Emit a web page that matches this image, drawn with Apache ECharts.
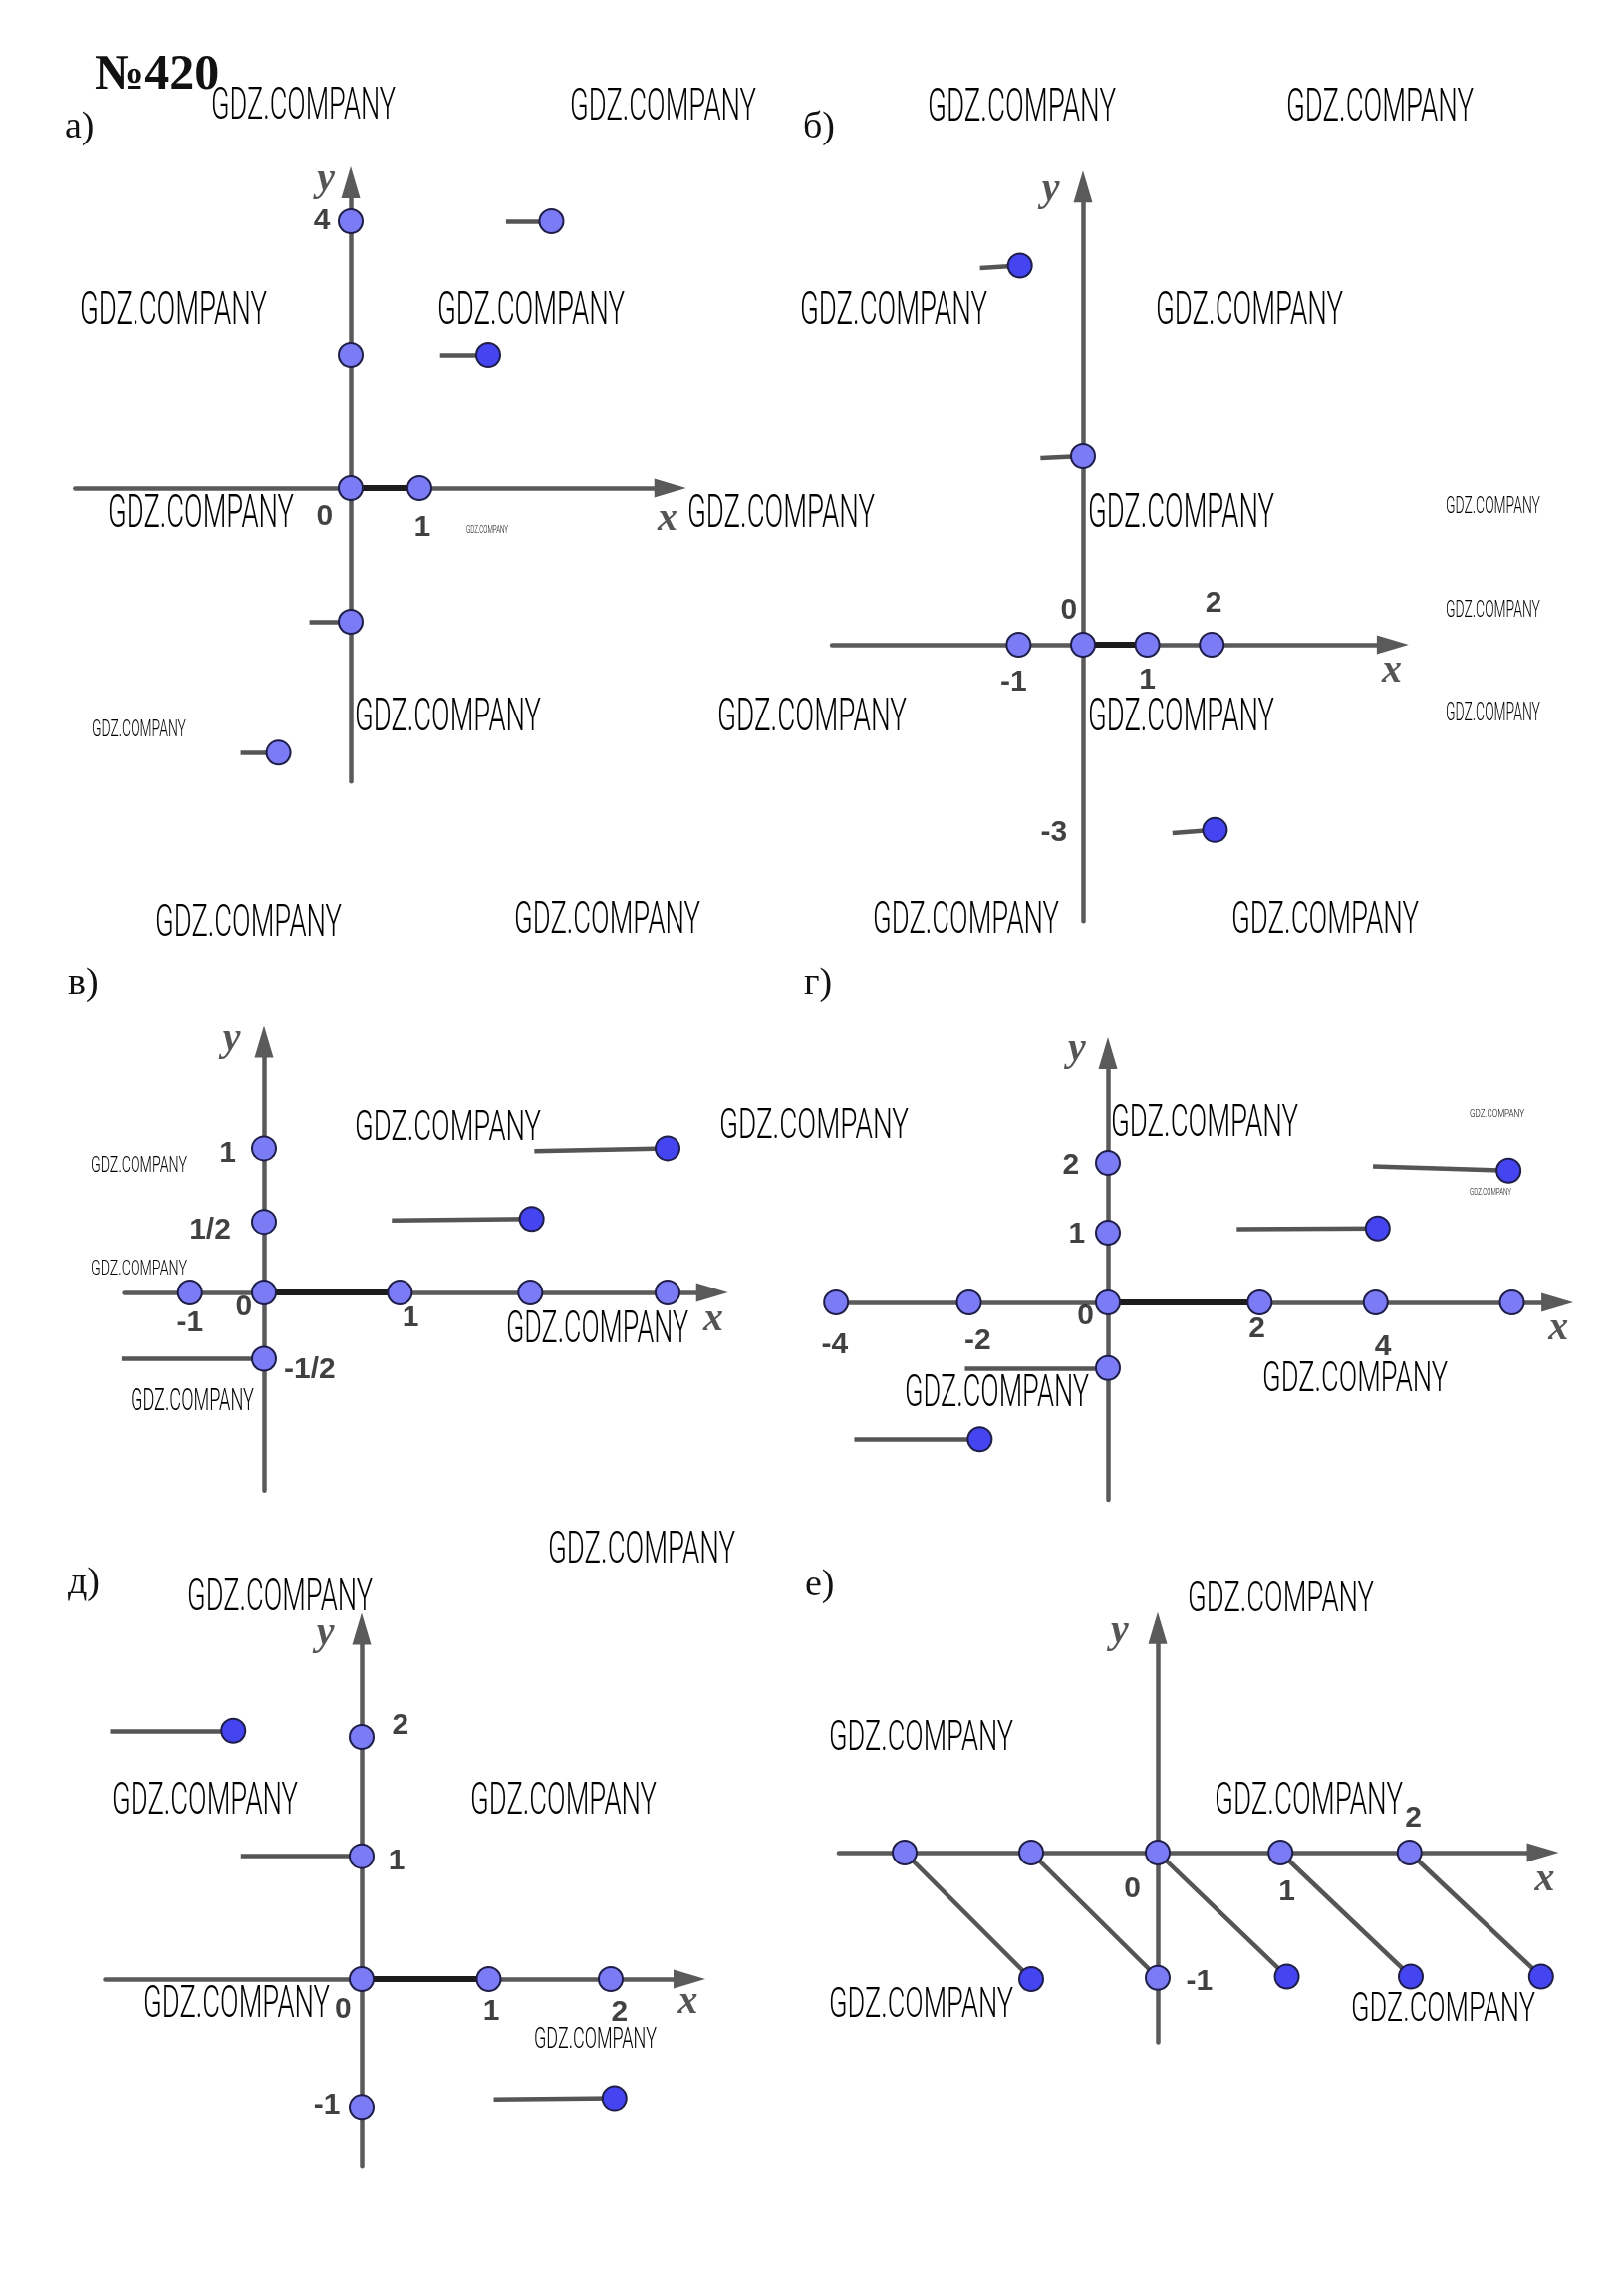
<!DOCTYPE html>
<html>
<head>
<meta charset="UTF-8">
<title>№420</title>
<script src="https://cdn.jsdelivr.net/npm/echarts@6.0.0/dist/echarts.min.js"></script>
<style>
html, body { margin: 0; padding: 0; background: #fff; }
#main { width: 1630px; height: 2298px; }
</style>
</head>
<body>
<div id="main"></div>
<script type="text/javascript">
// а)
var pointsA = [[0, 4], [0, 2], [0, 0], [1, 0], [0, -2], [2.92, 4], [-1.05, -3.96]];
var filledA = [[2, 2]];
var segmentsA = [[[2.26, 4], [2.92, 4]], [[1.3, 2], [2, 2]], [[-0.6, -2], [0, -2]], [[-1.6, -3.96], [-1.05, -3.96]]];
var boldA = [[[0, 0], [1, 0]]];
var ticksA = [[-0.42, 4, '4'], [-0.38, -0.43, '0'], [1.04, -0.6, '1']];
var namesA = [[4.61, -0.48, 'x'], [-0.36, 4.61, 'y']];

// б)
var pointsB = [[-1, 0], [0, 0], [1, 0], [2, 0], [0, 3]];
var filledB = [[-0.98, 6.04], [2.05, -2.95]];
var segmentsB = [[[-1.6, 6.0], [-0.98, 6.04]], [[-0.66, 2.97], [0, 3]], [[1.39, -3.0], [2.05, -2.95]]];
var boldB = [[[0, 0], [1, 0]]];
var ticksB = [[-0.22, 0.55, '0'], [2.03, 0.65, '2'], [-1.08, -0.6, '-1'], [1.0, -0.57, '1'], [-0.45, -3.0, '-3']];
var namesB = [[4.8, -0.42, 'x'], [-0.5, 7.25, 'y']];

// в)
var pointsC = [[-0.55, 0], [0, 0], [1.01, 0], [1.98, 0], [3.0, 0], [0, 1], [0, 0.49], [0, -0.46]];
var filledC = [[3.0, 1.0], [1.99, 0.51]];
var segmentsC = [[[2.01, 0.98], [3.0, 1.0]], [[0.95, 0.5], [1.99, 0.51]], [[-1.06, -0.46], [0, -0.46]]];
var boldC = [[[0, 0], [1.01, 0]]];
var ticksC = [[-0.27, 0.96, '1'], [-0.40, 0.43, '1/2'], [-0.15, -0.1, '0'], [-0.55, -0.21, '-1'], [1.09, -0.18, '1'], [0.34, -0.54, '-1/2']];
var namesC = [[3.34, -0.19, 'x'], [-0.24, 1.75, 'y']];

// г)
var pointsD = [[-4.03, 0], [-2.06, 0], [0, 0], [2.25, 0], [3.97, 0], [5.99, 0], [0, 2], [0, 1], [0, -0.94]];
var filledD = [[5.94, 1.89], [4.0, 1.06], [-1.9, -1.96]];
var segmentsD = [[[3.93, 1.95], [5.94, 1.89]], [[1.91, 1.05], [4.0, 1.06]], [[-2.12, -0.94], [0, -0.94]], [[-3.76, -1.96], [-1.9, -1.96]]];
var boldD = [[[0, 0], [2.25, 0]]];
var ticksD = [[-0.55, 1.96, '2'], [-0.46, 0.97, '1'], [-0.33, -0.2, '0'], [-4.05, -0.61, '-4'], [-1.93, -0.56, '-2'], [2.21, -0.38, '2'], [4.08, -0.64, '4']];
var namesD = [[6.68, -0.38, 'x'], [-0.46, 3.62, 'y']];

// д)
var pointsE = [[0, 1.95], [0, 0.99], [0, 0], [1.02, 0], [2.0, 0], [0, -1.03]];
var filledE = [[-1.03, 2.0], [2.03, -0.96]];
var segmentsE = [[[-2.02, 2.0], [-1.03, 2.0]], [[-0.97, 0.99], [0, 0.99]], [[1.06, -0.97], [2.03, -0.96]]];
var boldE = [[[0, 0], [1.02, 0]]];
var ticksE = [[0.31, 2.04, '2'], [0.28, 0.95, '1'], [-0.15, -0.25, '0'], [1.04, -0.26, '1'], [2.07, -0.27, '2'], [-0.28, -1.02, '-1']];
var namesE = [[2.62, -0.19, 'x'], [-0.29, 2.78, 'y']];

// е)
var pointsF = [[-2, 0], [-1, 0], [0, 0], [0.97, 0], [1.99, 0], [0, -0.99]];
var filledF = [[-1, -1], [1.02, -0.98], [2.0, -0.98], [3.03, -0.98]];
var segmentsF = [[[-2, 0], [-1, -1]], [[-1, 0], [0, -0.99]], [[0, 0], [1.02, -0.98]], [[0.97, 0], [2.0, -0.98]], [[1.99, 0], [3.03, -0.98]]];
var boldF = [];
var ticksF = [[-0.2, -0.29, '0'], [1.02, -0.31, '1'], [2.02, 0.27, '2'], [0.33, -1.02, '-1']];
var namesF = [[3.06, -0.22, 'x'], [-0.30, 1.74, 'y']];

var panels = [
  { letter: 'а)', pts: pointsA, filled: filledA, segs: segmentsA, bold: boldA, ticks: ticksA, names: namesA },
  { letter: 'б)', pts: pointsB, filled: filledB, segs: segmentsB, bold: boldB, ticks: ticksB, names: namesB },
  { letter: 'в)', pts: pointsC, filled: filledC, segs: segmentsC, bold: boldC, ticks: ticksC, names: namesC },
  { letter: 'г)', pts: pointsD, filled: filledD, segs: segmentsD, bold: boldD, ticks: ticksD, names: namesD },
  { letter: 'д)', pts: pointsE, filled: filledE, segs: segmentsE, bold: boldE, ticks: ticksE, names: namesE },
  { letter: 'е)', pts: pointsF, filled: filledF, segs: segmentsF, bold: boldF, ticks: ticksF, names: namesF }
];

// where each coordinate plane sits on the page (origin px, px per unit, axis ends)
var layout = [
  { ox: 352, oy: 490, ux: 69, uy: 67, xMin: -4.01, xTip: 4.88, yMin: -4.39, yTip: 4.82, lx: 65, ly: 141 },
  { ox: 1087, oy: 647, ux: 64.6, uy: 63, xMin: -3.9, xTip: 5.06, yMin: -4.4, yTip: 7.55, lx: 806, ly: 141 },
  { ox: 265, oy: 1297, ux: 135, uy: 144.6, xMin: -1.04, xTip: 3.45, yMin: -1.375, yTip: 1.85, lx: 68, ly: 1000 },
  { ox: 1112, oy: 1307, ux: 67.7, uy: 70, xMin: -4.03, xTip: 6.9, yMin: -2.83, yTip: 3.8, lx: 807, ly: 1000 },
  { ox: 363, oy: 1986, ux: 125, uy: 124.6, xMin: -2.06, xTip: 2.76, yMin: -1.51, yTip: 2.95, lx: 68, ly: 1602 },
  { ox: 1162, oy: 1859, ux: 127, uy: 127, xMin: -2.52, xTip: 3.17, yMin: -1.5, yTip: 1.9, lx: 808, ly: 1604 }
];

// watermark boxes: left, cap top, width, cap height
var watermarks = [
  [212, 89, 185, 31], [572, 89, 187, 32], [931, 89, 189, 33], [1291, 89, 188, 33],
  [80, 293, 188, 33], [439, 293, 188, 33], [803, 293, 188, 33], [1160, 293, 188, 33],
  [108, 497, 187, 33], [690, 497, 188, 33], [1092, 496, 187, 34], [1451, 497, 95, 17],
  [468, 524, 42, 8], [1451, 601, 95, 17], [1451, 704, 95, 18], [92, 721, 95, 17],
  [356, 701, 187, 33], [720, 701, 190, 33], [1092, 701, 187, 33],
  [156, 909, 187, 31], [516, 905, 187, 32], [876, 905, 187, 32], [1236, 905, 188, 32],
  [91, 1158, 97, 16], [356, 1114, 187, 30], [722, 1112, 190, 30], [1115, 1109, 188, 32],
  [1475, 1110, 55, 8], [1475, 1189, 42, 7], [91, 1262, 97, 15],
  [508, 1316, 183, 32], [131, 1392, 124, 22], [908, 1380, 185, 32], [1267, 1366, 186, 30],
  [550, 1537, 188, 32], [188, 1585, 186, 32], [1192, 1587, 187, 30], [832, 1726, 185, 30],
  [112, 1789, 187, 32], [472, 1789, 187, 32], [1219, 1790, 189, 31],
  [144, 1993, 187, 32], [536, 2033, 123, 21], [832, 1994, 185, 30], [1356, 1999, 185, 29]
];

var ARROW_W = 19, ARROW_L = 32;
var AXIS_COLOR = '#5a5a5a';
var WM_FONT = 'Roboto';

var grids = [], xAxes = [], yAxes = [], series = [], graphics = [];

function axisStyle() {
  return {
    axisLine: {
      show: true, onZero: true,
      symbol: ['none', 'triangle'], symbolSize: [ARROW_W, ARROW_L],
      lineStyle: { color: AXIS_COLOR, width: 4.5 }
    },
    axisTick: { show: false },
    axisLabel: { show: false },
    splitLine: { show: false }
  };
}

function toLines(list) {
  return list.map(function (s) { return { coords: s }; });
}

panels.forEach(function (p, i) {
  var L = layout[i];
  var xMax = L.xTip - ARROW_L / 2 / L.ux;
  var yMax = L.yTip - ARROW_L / 2 / L.uy;
  grids.push({
    left: L.ox + L.xMin * L.ux,
    top: L.oy - yMax * L.uy,
    width: (xMax - L.xMin) * L.ux,
    height: (yMax - L.yMin) * L.uy,
    containLabel: false,
    outerBoundsMode: 'none'
  });
  var xa = axisStyle();
  xa.type = 'value'; xa.gridIndex = i; xa.min = L.xMin; xa.max = xMax;
  xAxes.push(xa);
  var ya = axisStyle();
  ya.type = 'value'; ya.gridIndex = i; ya.min = L.yMin; ya.max = yMax;
  yAxes.push(ya);

  var base = { xAxisIndex: i, yAxisIndex: i, silent: true, animation: false, clip: false };

  series.push(Object.assign({}, base, {
    type: 'lines', coordinateSystem: 'cartesian2d', polyline: false, z: 2,
    lineStyle: { color: '#555', width: 4.5, opacity: 1, curveness: 0 },
    data: toLines(p.segs)
  }));
  series.push(Object.assign({}, base, {
    type: 'lines', coordinateSystem: 'cartesian2d', polyline: false, z: 3,
    lineStyle: { color: '#1c1c1c', width: 6, opacity: 1, curveness: 0 },
    data: toLines(p.bold)
  }));
  series.push(Object.assign({}, base, {
    type: 'scatter', symbol: 'circle', symbolSize: 24, z: 5,
    itemStyle: { color: '#7b7bf5', borderColor: '#1e1e48', borderWidth: 2, opacity: 1 },
    data: p.pts
  }));
  series.push(Object.assign({}, base, {
    type: 'scatter', symbol: 'circle', symbolSize: 24, z: 5,
    itemStyle: { color: '#4444f0', borderColor: '#1e1e48', borderWidth: 2, opacity: 1 },
    data: p.filled
  }));
  series.push(Object.assign({}, base, {
    type: 'scatter', symbol: 'circle', symbolSize: 0, z: 6,
    itemStyle: { color: 'transparent' },
    label: {
      show: true, position: 'inside',
      formatter: function (d) { return d.value[2]; },
      fontFamily: 'Liberation Sans', fontWeight: 'bold', fontSize: 30, color: '#111'
    },
    data: p.ticks
  }));
  series.push(Object.assign({}, base, {
    type: 'scatter', symbol: 'circle', symbolSize: 0, z: 6,
    itemStyle: { color: 'transparent' },
    label: {
      show: true, position: 'inside',
      formatter: function (d) { return d.value[2]; },
      fontFamily: 'Liberation Serif', fontStyle: 'italic', fontWeight: 'bold', fontSize: 40, color: '#2a2a2a'
    },
    data: p.names
  }));

  graphics.push({
    type: 'text', x: L.lx, y: L.ly - 13, z: 50, silent: true,
    style: { text: p.letter, fontFamily: 'Liberation Serif', fontSize: 38, fill: '#111', verticalAlign: 'middle' }
  });
});

graphics.push({
  type: 'text', x: 95, y: 76, z: 50, silent: true,
  style: { text: '№420', fontFamily: 'Liberation Serif', fontWeight: 'bold', fontSize: 50, fill: '#111', verticalAlign: 'middle' }
});

var measureCtx = document.createElement('canvas').getContext('2d');
watermarks.forEach(function (w) {
  var fs = w[3] / 0.711;
  measureCtx.font = '300 ' + fs.toFixed(2) + 'px ' + WM_FONT;
  var natural = measureCtx.measureText('GDZ.COMPANY').width;
  graphics.push({
    type: 'text', x: w[0], y: w[1] + w[3] / 2 + 4, scaleX: w[2] / natural, z: 100, silent: true,
    style: { text: 'GDZ.COMPANY', fontFamily: WM_FONT, fontWeight: 300, fontSize: fs, fill: '#000', verticalAlign: 'middle' }
  });
});

var myChart = echarts.init(document.getElementById('main'));
myChart.setOption({
  backgroundColor: '#fff',
  animation: false,
  grid: grids,
  xAxis: xAxes,
  yAxis: yAxes,
  series: series,
  graphic: { elements: graphics }
});
</script>
</body>
</html>
